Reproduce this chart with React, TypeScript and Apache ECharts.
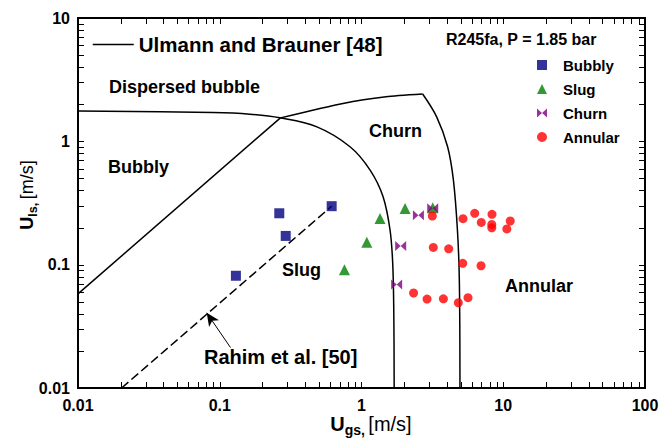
import React, { useEffect, useRef } from "react";
import * as echarts from "echarts";

const FONT = "'Liberation Sans', Arial, Helvetica, sans-serif";

// Axis ranges (m/s)
const X_MIN = 0.01;
const X_MAX = 100;
const Y_MIN = 0.01;
const Y_MAX = 10;
const xDecades = [0.01, 0.1, 1, 10];
const yDecades = [0.01, 0.1, 1];
const tickMultipliers = [1, 2, 3, 4, 5, 6, 7, 8, 9];
const xTickLabels = ["0.01", "0.1", "1", "10", "100"];
const yTickLabels = ["0.01", "0.1", "1", "10"];

// Ulmann & Brauner transition boundaries, [Ugs, Uls]
const dispersedBoundary = [
  [0.01, 1.76], [0.0895, 1.71], [0.163, 1.66], [0.266, 1.55], [0.485, 1.31],
  [0.83, 0.904], [1.15, 0.585], [1.42, 0.356], [1.59, 0.191], [1.66, 0.103],
  [1.69, 0.0405], [1.7, 0.01],
];
const bubblySlugBoundary = [[0.01, 0.058], [0.268, 1.55]];
const churnTopBoundary = [[0.268, 1.55], [0.74, 2.03], [1.49, 2.3], [2.7, 2.42]];
const annularBoundary = [
  [2.7, 2.42], [3.39, 1.58], [4.05, 0.904], [4.45, 0.485], [4.75, 0.191],
  [4.9, 0.075], [4.95, 0.01],
];

// Rahim et al. slug/bubbly transition and its pointer
const rahimLine = [[0.0203, 0.01], [0.616, 0.298]];
const rahimArrow = [[0.119, 0.0213], [0.0809, 0.0407]];

// Observed flow patterns, R245fa at 1.85 bar
const bubblyData = [[0.13, 0.0813], [0.263, 0.261], [0.292, 0.171], [0.616, 0.298]];
const slugData = [[0.758, 0.091], [1.09, 0.152], [1.35, 0.237], [2.03, 0.286], [3.18, 0.29]];
const churnData = [[1.77, 0.0692], [1.89, 0.1416], [2.52, 0.252], [3.18, 0.287]];
const annularData = [
  [3.16, 0.248], [5.2, 0.236], [6.29, 0.261], [7.0, 0.22], [8.33, 0.256],
  [8.3, 0.212], [8.3, 0.199], [11.2, 0.226], [10.6, 0.195],
  [3.21, 0.138], [4.12, 0.1345], [5.18, 0.1026], [6.97, 0.098],
  [2.33, 0.0589], [2.9, 0.0526], [3.78, 0.0528], [4.82, 0.0491], [5.64, 0.054],
];

const MODEL_NAME = "Ulmann and Brauner [48]";
const BOWTIE = "path://M0,0L5,4.5L10,0L10,9L5,4.5L0,9Z";

const boundaryLine = (data: number[][], smooth: number | boolean) => ({
  name: MODEL_NAME,
  type: "line",
  data,
  smooth,
  symbol: "none",
  lineStyle: { color: "#000", width: 1.5 },
  itemStyle: { color: "#000", opacity: 0 },
  z: 3,
});

const labelText = (text: string, x: number, y: number, size: number) => ({
  type: "text",
  x,
  y,
  silent: true,
  style: {
    text,
    fill: "#000",
    fontFamily: FONT,
    fontWeight: "bold",
    fontSize: size,
    align: "left",
    verticalAlign: "middle",
  },
  z: 10,
});

const axisTitle = (main: string, sub: string, x: number, y: number, size: number, rotation: number) => ({
  type: "text",
  x,
  y,
  rotation,
  silent: true,
  style: {
    text: `{b|${main}}{s|${sub}} {n|[m/s]}`,
    fill: "#000",
    fontFamily: FONT,
    align: "center",
    verticalAlign: "middle",
    rich: {
      b: { fontFamily: FONT, fontWeight: "bold", fontSize: size, lineHeight: size + 6, verticalAlign: "middle" },
      s: { fontFamily: FONT, fontWeight: "bold", fontSize: size * 0.7, lineHeight: size * 0.7, verticalAlign: "bottom" },
      n: { fontFamily: FONT, fontWeight: "normal", fontSize: size, lineHeight: size + 6, verticalAlign: "middle" },
    },
  },
  z: 10,
});

export default function App() {
  const ref = useRef<HTMLDivElement>(null);

  useEffect(() => {
    if (!ref.current) return;
    const chart = echarts.init(ref.current, undefined, { renderer: "svg" });

    const option: any = {
      animation: false,
      textStyle: { fontFamily: FONT },
      grid: {
        left: 78,
        right: 22,
        top: 18,
        bottom: 52,
        show: true,
        borderColor: "#000",
        borderWidth: 2,
        backgroundColor: "transparent",
      },
      xAxis: {
        type: "log",
        logBase: 10,
        min: X_MIN,
        max: X_MAX,
        axisLine: { show: false },
        axisTick: { show: false },
        splitLine: { show: false },
        axisLabel: {
          color: "#000",
          fontFamily: FONT,
          fontWeight: "bold",
          fontSize: 16,
          margin: 9,
          formatter: (v: number) => xTickLabels[Math.round(Math.log10(v)) + 2] ?? "",
        },
      },
      yAxis: {
        type: "log",
        logBase: 10,
        min: Y_MIN,
        max: Y_MAX,
        axisLine: { show: false },
        axisTick: { show: false },
        splitLine: { show: false },
        axisLabel: {
          color: "#000",
          fontFamily: FONT,
          fontWeight: "bold",
          fontSize: 16,
          margin: 8,
          formatter: (v: number) => yTickLabels[Math.round(Math.log10(v)) + 2] ?? "",
        },
      },
      legend: [
        {
          data: [MODEL_NAME],
          left: 92,
          top: 34,
          padding: 0,
          selectedMode: false,
          itemWidth: 41,
          itemHeight: 14,
          itemStyle: { opacity: 0 },
          lineStyle: { color: "#000", width: 1.5, opacity: 1 },
          textStyle: { color: "#000", fontFamily: FONT, fontWeight: "bold", fontSize: 20.5, lineHeight: 20 },
        },
        {
          data: ["Bubbly", "Slug", "Churn", "Annular"],
          orient: "vertical",
          left: 537,
          top: 57,
          padding: 0,
          itemGap: 8,
          itemWidth: 10,
          itemHeight: 10,
          selectedMode: false,
          textStyle: {
            color: "#000",
            fontFamily: FONT,
            fontWeight: "bold",
            fontSize: 15,
            lineHeight: 16,
            padding: [0, 0, 0, 11],
          },
        },
      ],
      graphic: [
        labelText("R245fa, P = 1.85 bar", 446, 39, 16),
        labelText("Dispersed bubble", 109, 87, 18),
        labelText("Bubbly", 108, 167, 18),
        labelText("Churn", 369, 131, 18),
        labelText("Slug", 282, 270, 18),
        labelText("Annular", 505, 286, 18),
        labelText("Rahim et al. [50]", 204, 357, 20),
        axisTitle("U", "gs,", 371, 424, 20, 0),
        axisTitle("U", "ls,", 27, 195, 18, Math.PI / 2),
      ],
      series: [
        boundaryLine(dispersedBoundary, 0.35),
        boundaryLine(bubblySlugBoundary, false),
        boundaryLine(churnTopBoundary, 0.2),
        boundaryLine(annularBoundary, 0.35),
        {
          name: "Rahim et al. [50]",
          type: "line",
          data: rahimLine,
          symbol: "none",
          lineStyle: { color: "#000", width: 1.5, type: [9, 4] },
          z: 3,
          markLine: {
            silent: true,
            symbol: ["none", "arrow"],
            symbolSize: [9, 13],
            label: { show: false },
            lineStyle: { color: "#000", width: 1, type: "solid" },
            data: [[{ coord: rahimArrow[0] }, { coord: rahimArrow[1] }]],
          },
        },
        {
          name: "Bubbly",
          type: "scatter",
          data: bubblyData,
          symbol: "rect",
          symbolSize: 10,
          itemStyle: { color: "#000080" },
          z: 5,
        },
        {
          name: "Slug",
          type: "scatter",
          data: slugData,
          symbol: "triangle",
          symbolSize: 11,
          itemStyle: { color: "#008000" },
          z: 5,
        },
        {
          name: "Churn",
          type: "scatter",
          data: churnData,
          symbol: BOWTIE,
          symbolSize: [11, 10],
          itemStyle: { color: "#800080" },
          z: 6,
        },
        {
          name: "Annular",
          type: "scatter",
          data: annularData,
          symbol: "circle",
          symbolSize: 9,
          itemStyle: { color: "#ff0000" },
          z: 5,
        },
        {
          // inward tick marks on all four sides of the frame
          type: "custom",
          silent: true,
          data: [[1, 1]],
          z: 8,
          renderItem: (params: any, api: any) => {
            const cs = params.coordSys;
            const left = cs.x;
            const top = cs.y;
            const right = cs.x + cs.width;
            const bottom = cs.y + cs.height;
            const L = 6;
            const style = { stroke: "#000", lineWidth: 1 };
            const children: any[] = [];
            for (const d of xDecades) {
              for (const m of tickMultipliers) {
                const v = d * m;
                if (v <= X_MIN * 1.0001 || v >= X_MAX * 0.9999) continue;
                const px = Math.round(api.coord([v, Y_MIN])[0]) + 0.5;
                children.push({ type: "line", shape: { x1: px, y1: bottom, x2: px, y2: bottom - L }, style });
                children.push({ type: "line", shape: { x1: px, y1: top, x2: px, y2: top + L }, style });
              }
            }
            for (const d of yDecades) {
              for (const m of tickMultipliers) {
                const v = d * m;
                if (v <= Y_MIN * 1.0001 || v >= Y_MAX * 0.9999) continue;
                const py = Math.round(api.coord([X_MIN, v])[1]) + 0.5;
                children.push({ type: "line", shape: { x1: left, y1: py, x2: left + L, y2: py }, style });
                children.push({ type: "line", shape: { x1: right, y1: py, x2: right - L, y2: py }, style });
              }
            }
            return { type: "group", children };
          },
        },
      ],
    };

    chart.setOption(option);
    return () => chart.dispose();
  }, []);

  return (
    <div
      ref={ref}
      style={{ position: "absolute", left: 0, top: 0, width: 667, height: 440, background: "#fff" }}
    />
  );
}
